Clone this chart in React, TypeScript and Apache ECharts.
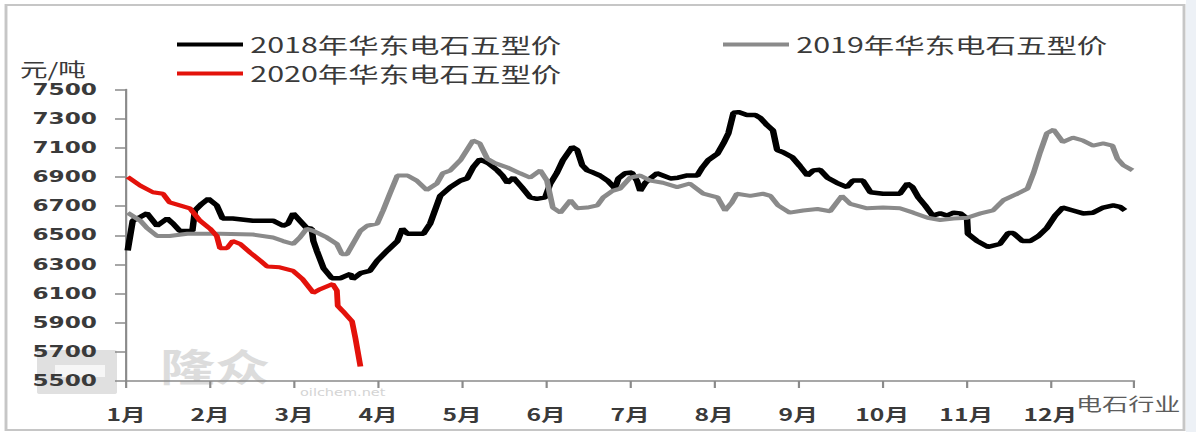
import React, { useEffect, useRef } from 'react';
import * as echarts from 'echarts';

const monthLabels = ['1月', '2月', '3月', '4月', '5月', '6月', '7月', '8月', '9月', '10月', '11月', '12月'];
const seriesNames = ['2018年华东电石五型价', '2019年华东电石五型价', '2020年华东电石五型价'];
const seriesColors = ['#000000', '#8a8a8a', '#e3120b'];
const yMin = 5500;
const yMax = 7500;
const yStep = 200;
const unitLabel = '元/吨';

// [month position (0 = 1 Jan, 12 = 31 Dec), price]
const price2018: [number, number][] = [
  [0.02, 6395], [0.08, 6600], [0.17, 6625], [0.25, 6650], [0.37, 6565], [0.49, 6615], [0.56, 6580], [0.64, 6530],
  [0.79, 6530], [0.82, 6670], [0.9, 6715], [0.98, 6750], [1.08, 6705], [1.15, 6615], [1.27, 6615], [1.51, 6600],
  [1.75, 6600], [1.87, 6565], [1.93, 6580], [1.99, 6650], [2.07, 6600], [2.15, 6550], [2.21, 6545], [2.23, 6460],
  [2.27, 6395], [2.35, 6275], [2.45, 6205], [2.55, 6205], [2.67, 6235], [2.7, 6200], [2.79, 6240], [2.9, 6255],
  [2.99, 6325], [3.11, 6395], [3.23, 6460], [3.29, 6545], [3.35, 6510], [3.54, 6510], [3.62, 6580], [3.74, 6770],
  [3.86, 6830], [3.98, 6875], [4.06, 6890], [4.13, 6965], [4.21, 7020], [4.31, 6995], [4.42, 6945], [4.48, 6910],
  [4.54, 6860], [4.61, 6895], [4.71, 6830], [4.81, 6760], [4.89, 6750], [4.99, 6760], [5.05, 6855], [5.13, 6930],
  [5.2, 7015], [5.31, 7105], [5.37, 7085], [5.43, 6980], [5.49, 6945], [5.56, 6930], [5.64, 6910], [5.73, 6875],
  [5.79, 6840], [5.82, 6820], [5.86, 6890], [5.94, 6925], [6.02, 6930], [6.08, 6875], [6.12, 6805], [6.18, 6860],
  [6.24, 6890], [6.32, 6925], [6.39, 6910], [6.48, 6890], [6.57, 6895], [6.68, 6910], [6.8, 6910], [6.86, 6965],
  [6.93, 7015], [7.04, 7060], [7.11, 7130], [7.17, 7200], [7.23, 7340], [7.29, 7345], [7.39, 7325], [7.49, 7325],
  [7.55, 7305], [7.63, 7255], [7.7, 7220], [7.75, 7085], [7.82, 7070], [7.93, 7035], [8.02, 6975], [8.11, 6910],
  [8.18, 6945], [8.26, 6950], [8.35, 6895], [8.46, 6860], [8.58, 6830], [8.65, 6875], [8.77, 6875], [8.86, 6795],
  [9.01, 6785], [9.21, 6785], [9.3, 6855], [9.36, 6830], [9.43, 6760], [9.51, 6705], [9.6, 6635], [9.69, 6650],
  [9.77, 6635], [9.85, 6655], [9.93, 6650], [10.01, 6615], [10.02, 6510], [10.13, 6460], [10.26, 6420], [10.4, 6440],
  [10.5, 6515], [10.56, 6515], [10.67, 6460], [10.76, 6460], [10.86, 6495], [10.96, 6550], [11.06, 6635], [11.15, 6690],
  [11.27, 6670], [11.39, 6650], [11.51, 6655], [11.63, 6690], [11.75, 6705], [11.83, 6695], [11.89, 6670],
];

const price2019: [number, number][] = [
  [0.02, 6655], [0.17, 6600], [0.25, 6550], [0.37, 6495], [0.52, 6495], [0.73, 6510], [1.12, 6510], [1.51, 6505],
  [1.75, 6485], [1.87, 6460], [1.99, 6440], [2.07, 6485], [2.15, 6545], [2.23, 6530], [2.39, 6485], [2.51, 6440],
  [2.57, 6370], [2.63, 6370], [2.7, 6440], [2.79, 6530], [2.87, 6565], [2.99, 6580], [3.06, 6670], [3.14, 6785],
  [3.23, 6910], [3.35, 6910], [3.46, 6875], [3.58, 6810], [3.7, 6855], [3.77, 6925], [3.86, 6945], [3.98, 7015],
  [4.13, 7150], [4.21, 7130], [4.3, 7025], [4.39, 6995], [4.54, 6965], [4.69, 6925], [4.81, 6895], [4.93, 6945],
  [5.01, 6875], [5.08, 6690], [5.17, 6655], [5.29, 6740], [5.37, 6685], [5.49, 6690], [5.61, 6705], [5.68, 6760],
  [5.79, 6805], [5.88, 6820], [6.0, 6895], [6.12, 6910], [6.24, 6875], [6.39, 6860], [6.56, 6830], [6.71, 6855],
  [6.87, 6785], [7.04, 6760], [7.13, 6670], [7.21, 6725], [7.27, 6785], [7.43, 6770], [7.58, 6785], [7.67, 6770],
  [7.76, 6705], [7.9, 6655], [8.06, 6670], [8.23, 6680], [8.38, 6665], [8.52, 6770], [8.62, 6715], [8.82, 6685],
  [9.01, 6690], [9.21, 6685], [9.37, 6655], [9.54, 6620], [9.69, 6605], [9.85, 6615], [10.01, 6620], [10.17, 6650],
  [10.32, 6670], [10.44, 6740], [10.61, 6785], [10.73, 6820], [10.8, 6925], [10.88, 7070], [10.96, 7200], [11.04, 7225],
  [11.15, 7140], [11.27, 7170], [11.39, 7150], [11.51, 7115], [11.63, 7130], [11.74, 7115], [11.8, 7025], [11.87, 6980],
  [11.98, 6945],
];

const price2020: [number, number][] = [
  [0.02, 6900], [0.17, 6840], [0.32, 6795], [0.44, 6785], [0.52, 6725], [0.64, 6705], [0.76, 6685], [0.88, 6600],
  [1.0, 6545], [1.08, 6495], [1.12, 6410], [1.2, 6410], [1.27, 6460], [1.36, 6440], [1.48, 6380], [1.6, 6325],
  [1.68, 6285], [1.83, 6280], [1.99, 6255], [2.1, 6200], [2.23, 6105], [2.31, 6130], [2.46, 6165], [2.51, 6120],
  [2.52, 6015], [2.58, 5980], [2.69, 5910], [2.73, 5795], [2.79, 5600],
];

// The reference image is horizontally stretched; render narrower and stretch by S.
const S = 1.45;
const W = 1196 / S;
const H = 432;
const px = (x: number) => x / S;

const textColor = '#3a3a3a';
const axisColor = '#8a8a8a';
const cjkFont = '"Noto Sans CJK SC", "DejaVu Sans", sans-serif';

export default function App() {
  const ref = useRef<HTMLDivElement>(null);

  useEffect(() => {
    if (!ref.current) return;
    const chart = echarts.init(ref.current, null, { renderer: 'svg' });
    const legendCommon = {
      orient: 'horizontal',
      padding: 0,
      icon: 'rect',
      itemWidth: px(66),
      itemHeight: 4,
      selectedMode: false,
      textStyle: { fontSize: 21, fontFamily: cjkFont, color: textColor },
    };
    const dataSets = [price2018, price2019, price2020];
    chart.setOption({
      animation: false,
      backgroundColor: '#ffffff',
      grid: { left: px(126), right: W - px(1134), top: 89.5, bottom: H - 381, containLabel: false },
      legend: [
        { ...legendCommon, data: [seriesNames[0]], left: px(177), top: 34 },
        { ...legendCommon, data: [seriesNames[1]], left: px(723), top: 34 },
        { ...legendCommon, data: [seriesNames[2]], left: px(177), top: 63 },
      ],
      xAxis: {
        type: 'value',
        min: 0,
        max: 12,
        interval: 1,
        axisLine: { show: true, onZero: false, lineStyle: { color: axisColor, width: 1.5 } },
        axisTick: { show: true, inside: false, length: 7, lineStyle: { color: axisColor, width: 1.5 } },
        axisLabel: {
          show: true,
          margin: 24,
          color: textColor,
          fontSize: 17,
          fontWeight: 'bold',
          fontFamily: cjkFont,
          showMinLabel: true,
          showMaxLabel: true,
          formatter: (v: number) => monthLabels[Math.round(v)] ?? '',
        },
        splitLine: { show: false },
      },
      yAxis: {
        type: 'value',
        min: yMin,
        max: yMax,
        interval: yStep,
        axisLine: { show: true, lineStyle: { color: axisColor, width: 1.5 } },
        axisTick: { show: true, inside: false, length: px(11), lineStyle: { color: axisColor, width: 1.5 } },
        axisLabel: {
          show: true,
          margin: px(29),
          color: textColor,
          fontSize: 16,
          fontWeight: 'bold',
          fontFamily: '"DejaVu Sans", sans-serif',
          formatter: (v: number) => String(v),
        },
        splitLine: { show: false },
      },
      graphic: [
        {
          type: 'rect',
          z: -10,
          silent: true,
          shape: { x: px(1186), y: 0, width: W - px(1186), height: H },
          style: { fill: '#edf1f6' },
        },
        {
          type: 'rect',
          z: -10,
          silent: true,
          shape: { x: px(6), y: 5, width: px(1184 - 6), height: 425 },
          style: { fill: 'none', stroke: '#c6c6c6', lineWidth: 2 },
        },
        {
          type: 'group',
          z: -5,
          silent: true,
          children: [
            {
              type: 'rect',
              shape: { x: px(37), y: 350, width: px(80), height: 44, r: 2 },
              style: { fill: '#e0e0e0' },
            },
            {
              type: 'rect',
              shape: { x: px(55), y: 365, width: px(50), height: 12 },
              style: { fill: '#f6f6f6' },
            },
            {
              type: 'text',
              x: px(160),
              y: 365,
              style: {
                text: '隆众',
                fontSize: 38,
                fontWeight: 'bold',
                fontFamily: cjkFont,
                fill: '#dcdcdc',
                verticalAlign: 'middle',
              },
            },
            {
              type: 'text',
              x: px(300),
              y: 392,
              style: {
                text: 'oilchem.net',
                fontSize: 10,
                fontFamily: '"DejaVu Sans", sans-serif',
                fill: '#d4d4d4',
                verticalAlign: 'middle',
              },
            },
          ],
        },
        {
          type: 'text',
          x: px(20),
          y: 69,
          silent: true,
          style: {
            text: unitLabel,
            fontSize: 19,
            fontFamily: cjkFont,
            fill: textColor,
            verticalAlign: 'middle',
          },
        },
        {
          type: 'text',
          x: px(1076),
          y: 403,
          silent: true,
          style: {
            text: '电石行业',
            fontSize: 18,
            fontFamily: cjkFont,
            fill: '#5c5c5c',
            verticalAlign: 'middle',
          },
        },
      ],
      series: dataSets.map((d, i) => ({
        type: 'line',
        name: seriesNames[i],
        data: d,
        symbol: 'none',
        showSymbol: false,
        smooth: false,
        z: 2 + i,
        lineStyle: { color: seriesColors[i], width: i === 0 ? 4.5 : 4 },
        itemStyle: { color: seriesColors[i] },
      })),
    });
    return () => chart.dispose();
  }, []);

  return (
    <div
      style={{
        position: 'fixed',
        left: 0,
        top: 0,
        width: 1196,
        height: H,
        overflow: 'hidden',
        background: '#ffffff',
      }}
    >
      <div
        ref={ref}
        style={{ width: W, height: H, transform: `scaleX(${S})`, transformOrigin: '0 0' }}
      />
    </div>
  );
}
